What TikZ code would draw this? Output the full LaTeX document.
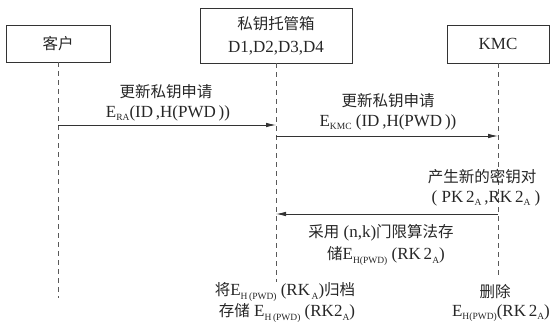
\documentclass[tikz,border=0pt]{standalone}
\usepackage{fontspec}
\setmainfont{Liberation Serif}
\newfontfamily\cjk{Noto Sans CJK SC}
\usetikzlibrary{arrows.meta}
\newcommand{\lowsub}[1]{\raisebox{-0.4ex}{\fontsize{9.5}{10}\selectfont #1}}
\newcommand{\zh}[1]{{\cjk\fontsize{15.5}{18}\selectfont #1}}
\tikzset{
  box/.style={draw=black!80, line width=0.8pt, inner sep=0pt, align=center},
  lifeline/.style={draw=black!65, line width=0.8pt, dash pattern=on 5pt off 4pt},
  msg/.style={draw=black!80, line width=0.8pt, -{Latex[length=10pt,width=4.5pt]}},
  lbl/.style={inner sep=0pt, text=black!85, align=center},
}
\begin{document}
\begin{tikzpicture}[x=1pt,y=-1pt, font=\fontsize{17}{20}\selectfont, text=black!85]
\useasboundingbox (0,0) rectangle (550,329);
% participants
\node[box, minimum width=104, minimum height=37] (ke) at (58,43.5) {\zh{客户}};
\node[box, minimum width=152, minimum height=55] (tg) at (276,35.5) {\zh{私钥托管箱}\\[3pt]D1,D2,D3,D4};
\node[box, minimum width=102, minimum height=38] (kmc) at (498,44) {KMC};
% lifeline ends
\coordinate (ke-end) at (58,298);
\coordinate (tg-end) at (276,282);
\coordinate (kmc-end) at (498,275);
\draw[lifeline] (ke.south) -- (ke-end);
\draw[lifeline] (tg.south) -- (tg-end);
\draw[lifeline] (kmc.south) -- (kmc-end);
% message points
\coordinate (m1s) at (58,125);
\coordinate (m1e) at (276,125);
\coordinate (m2s) at (276,136);
\coordinate (m2e) at (498,136);
\coordinate (m3s) at (498,214);
\coordinate (m3e) at (276,214);
\draw[msg] (m1s) -- (m1e);
\draw[msg] (m2s) -- (m2e);
\draw[msg] (m3s) -- (m3e);
% labels
\node[lbl] (l1a) at (166,92) {\zh{更新私钥申请}};
\node[lbl] (l1b) at (168,113) {E\lowsub{RA}(ID\,,H(PWD\,))};
\node[lbl] (l2a) at (388,101) {\zh{更新私钥申请}};
\node[lbl] (l2b) at (388,122) {E\lowsub{KMC} (ID\,,H(PWD\,))};
\node[lbl] (l3a) at (482,177) {\zh{产生新的密钥对}};
\node[lbl] (l3b) at (486,198) {(\ PK\,2\lowsub{A}\,,RK\,2\lowsub{A}\ )};
\node[lbl] (l4a) at (381,233) {\zh{采用} (n,k)\zh{门限算法存}};
\node[lbl] (l4b) at (386,256) {\zh{储}E\lowsub{H(PWD)} (RK\,2\lowsub{A})};
\node[lbl] (l5a) at (285,292) {\zh{将}E\lowsub{H\,(PWD)} (RK\lowsub{\,A})\zh{归档}};
\node[lbl] (l5b) at (287,313) {\zh{存储} E\lowsub{H\,(PWD)} (RK2\lowsub{A})};
\node[lbl] (l6a) at (495,292) {\zh{删除}};
\node[lbl] (l6b) at (501,313) {E\lowsub{H(PWD)}(RK\,2\lowsub{A})};
\end{tikzpicture}
\end{document}
